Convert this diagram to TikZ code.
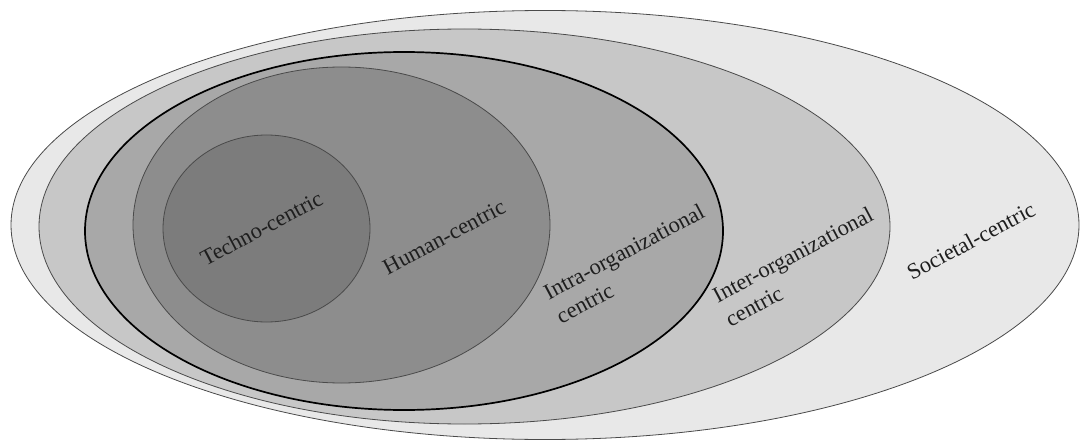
\documentclass[tikz,border=0pt]{standalone}
\usepackage{fontspec}
\setmainfont{Liberation Serif}
\definecolor{cSoc}{HTML}{E8E8E8}
\definecolor{cInter}{HTML}{C7C7C7}
\definecolor{cIntra}{HTML}{A8A8A8}
\definecolor{cHuman}{HTML}{8D8D8D}
\definecolor{cTech}{HTML}{7C7C7C}
\definecolor{cEdge}{HTML}{4A4A4A}
\definecolor{cText}{HTML}{1E1E1E}
\tikzset{
  zone/.style={draw=cEdge, line width=0.8pt},
  strongzone/.style={draw=black, line width=1.7pt},
  lbl/.style={font=\fontsize{22.5}{27}\selectfont, text=cText, inner sep=0pt, rotate=28},
}
\begin{document}
\begin{tikzpicture}[x=1pt,y=-1pt]
\useasboundingbox (0,0) rectangle (1081,441);
% nested zones
\path[zone, fill=cSoc]   (545,225)   ellipse [x radius=534pt,   y radius=214.5pt];
\path[zone, fill=cInter] (464.5,226.5) ellipse [x radius=425.5pt, y radius=197.5pt];
\path[strongzone, fill=cIntra] (404,231) ellipse [x radius=319pt, y radius=179pt];
\path[zone, fill=cHuman] (341.5,225) ellipse [x radius=208.5pt, y radius=158pt];
\path[zone, fill=cTech]  (266.5,228.5) ellipse [x radius=103.5pt, y radius=93.5pt];
% labels
\node[lbl, anchor=base] (techno) at (265,235) {Techno-centric};
\node[lbl, anchor=base] (human) at (447.5,243.5) {Human-centric};
\node[lbl, align=left] (intra) at (630.2,263.6) {Intra-organizational\\centric};
\node[lbl, align=left] (inter) at (799.2,266.6) {Inter-organizational\\centric};
\node[lbl, anchor=base] (societal) at (974.5,247.5) {Societal-centric};
\end{tikzpicture}
\end{document}
